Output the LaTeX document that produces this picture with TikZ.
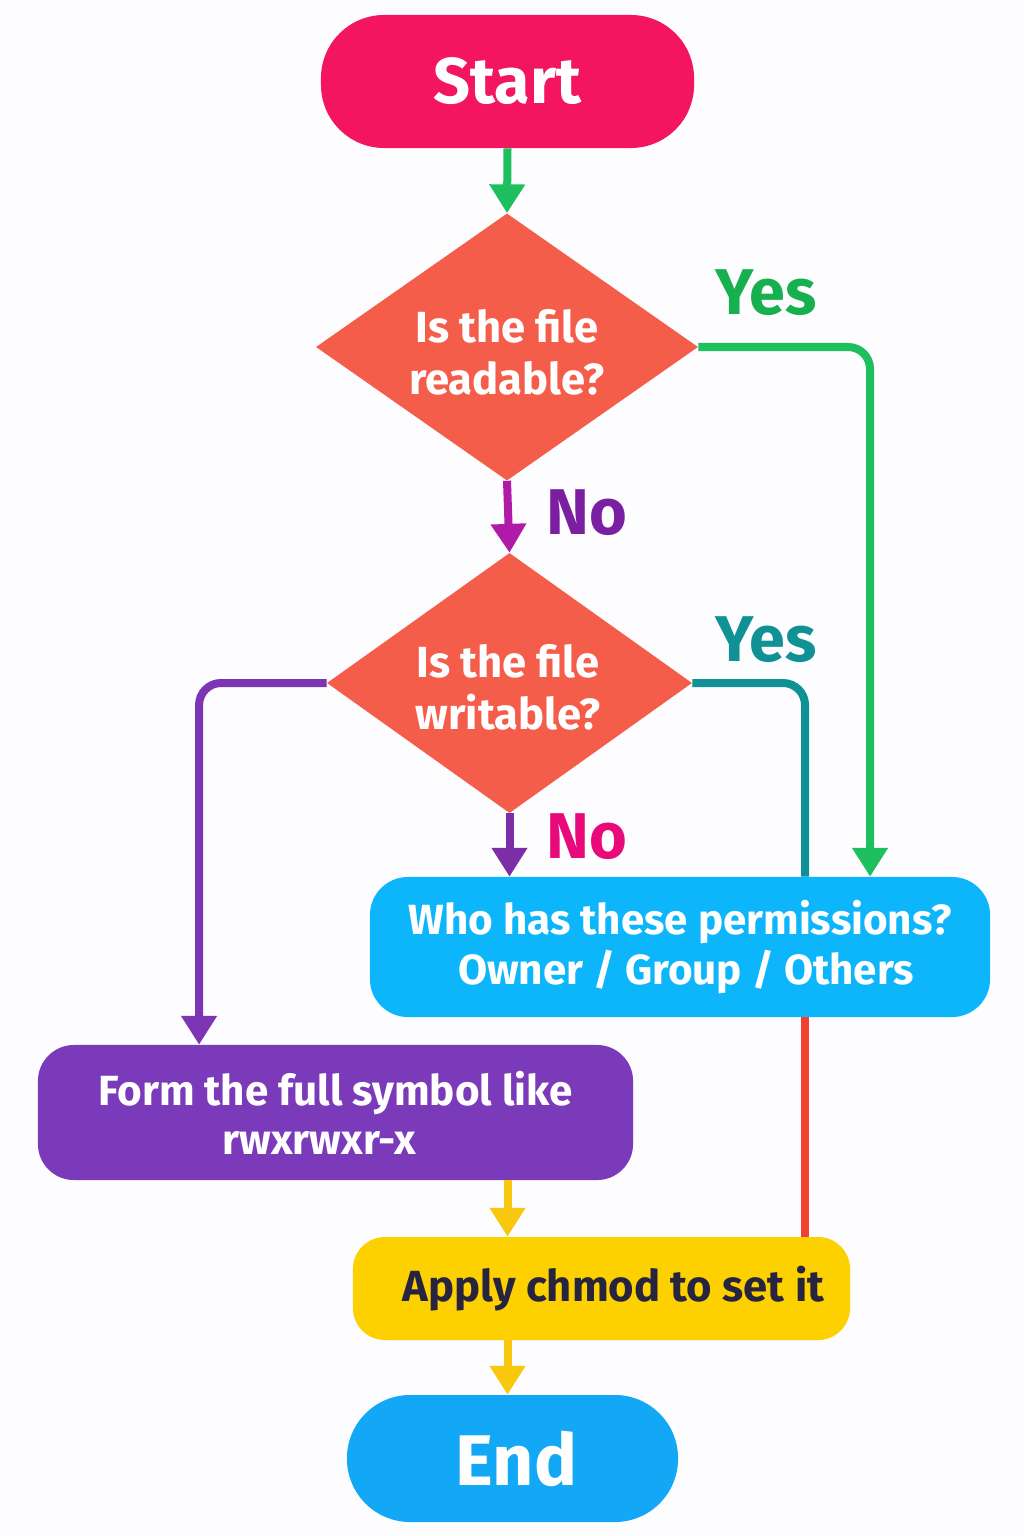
\documentclass[tikz,border=0pt]{standalone}
\usepackage{fontspec}
\setmainfont{Fira Sans}
\usetikzlibrary{shapes.geometric,arrows.meta,calc}
\definecolor{bgc}{HTML}{FDFCFE}
\definecolor{startc}{HTML}{F31560}
\definecolor{diac}{HTML}{F55D4B}
\definecolor{greenc}{HTML}{1DBF5E}
\definecolor{yesg}{HTML}{16B04E}
\definecolor{magc}{HTML}{B01AA7}
\definecolor{nopurp}{HTML}{7B1FA2}
\definecolor{dpurp}{HTML}{7B2EA6}
\definecolor{nomag}{HTML}{E8097A}
\definecolor{tealc}{HTML}{109196}
\definecolor{lpurp}{HTML}{7B35B5}
\definecolor{formc}{HTML}{7B3AB9}
\definecolor{whoc}{HTML}{0DB5FB}
\definecolor{yelc}{HTML}{F9C80E}
\definecolor{applyc}{HTML}{FDD000}
\definecolor{applyt}{HTML}{26243F}
\definecolor{redc}{HTML}{F2412E}
\definecolor{endc}{HTML}{12A8F5}
\tikzset{
  x=0.025cm, y=-0.025cm,
  pill/.style={rectangle, rounded corners=1.58cm, inner sep=0, text=white},
  boxn/.style={rectangle, inner sep=0, text=white, align=center},
  dia/.style={diamond, fill=diac, inner sep=0},
  dtext/.style={inner sep=0, text=white, align=center,
    font=\fontsize{31}{37}\selectfont\bfseries},
  conn/.style={line width=0.2cm, rounded corners=0.55cm},
  arr/.style={conn, -{Triangle[width=0.85cm,length=0.72cm]}},
  lbl/.style={font=\fontsize{46}{50}\selectfont\bfseries},
  boxfont/.style={font=\fontsize{30}{35}\selectfont\bfseries}
}
\begin{document}
\begin{tikzpicture}
\fill[bgc] (0,0) rectangle (1024,1536);
\useasboundingbox (0,0) rectangle (1024,1536);

\node[pill, fill=startc, minimum width=9.325cm, minimum height=3.325cm,
  font=\fontsize{46}{50}\selectfont\bfseries] (start) at (507.5,81.5) {Start};
\node[dia, minimum width=9.55cm, minimum height=6.675cm] (d1) at (507,347) {};
\node[dtext] (d1t) at (507,352) {Is the file\\readable?};
\node[dia, minimum width=9.125cm, minimum height=6.5cm] (d2) at (509.5,683) {};
\node[dtext] (d2t) at (508,687) {Is the file\\writable?};
\node[boxn, boxfont, fill=whoc, rounded corners=0.95cm, minimum width=15.5cm, minimum height=3.5cm] (who) at (680,947)
  {Who has these permissions?\\\hspace*{0.3cm}Owner / Group / Others};
\node[boxn, boxfont, fill=formc, rounded corners=0.9cm, minimum width=14.875cm, minimum height=3.375cm] (form) at (335.5,1112.5)
  {Form the full symbol like\\rwxrwxr-x\hspace*{0.8cm}};
\node[boxn, fill=applyc, text=applyt, rounded corners=0.8cm, minimum width=12.425cm, minimum height=2.575cm,
  font=\fontsize{31}{36}\selectfont\bfseries] (apply) at (601.5,1288.5) {\hspace*{0.6cm}Apply chmod to set it};
\node[pill, fill=endc, minimum width=8.275cm, minimum height=3.175cm,
  font=\fontsize{51}{56}\selectfont\bfseries] (end) at (512.5,1458.5) {\hspace*{0.2cm}End};

% labels
\node[lbl, text=yesg] (yes1) at (766,293) {Yes};
\node[lbl, text=nopurp] (no1) at (587,513) {No};
\node[lbl, text=tealc] (yes2) at (766,640) {Yes};
\node[lbl, text=nomag] (no2) at (587,837) {No};

% connectors
\draw[arr, greenc] (start.south) -- (d1.north);
\draw[arr, greenc] (d1.east) -| ([xshift=4.75cm]who.north);
\draw[arr, magc] (d1.south) -- (d2.north);
\draw[conn, tealc] (d2.east) -| ([xshift=3.125cm]who.north);
\draw[arr, lpurp] (d2.west) -| ([xshift=-3.41cm]form.north);
\draw[arr, dpurp] (d2.south) -- (d2.south |- who.north);
\draw[conn, redc] ([xshift=3.125cm]who.south) -- ([xshift=3.125cm]who.south |- apply.north);
\draw[arr, yelc] (form.south -| start.south) -- (apply.north -| start.south);
\draw[arr, yelc] (apply.south -| start.south) -- (end.north -| start.south);
\end{tikzpicture}
\end{document}
